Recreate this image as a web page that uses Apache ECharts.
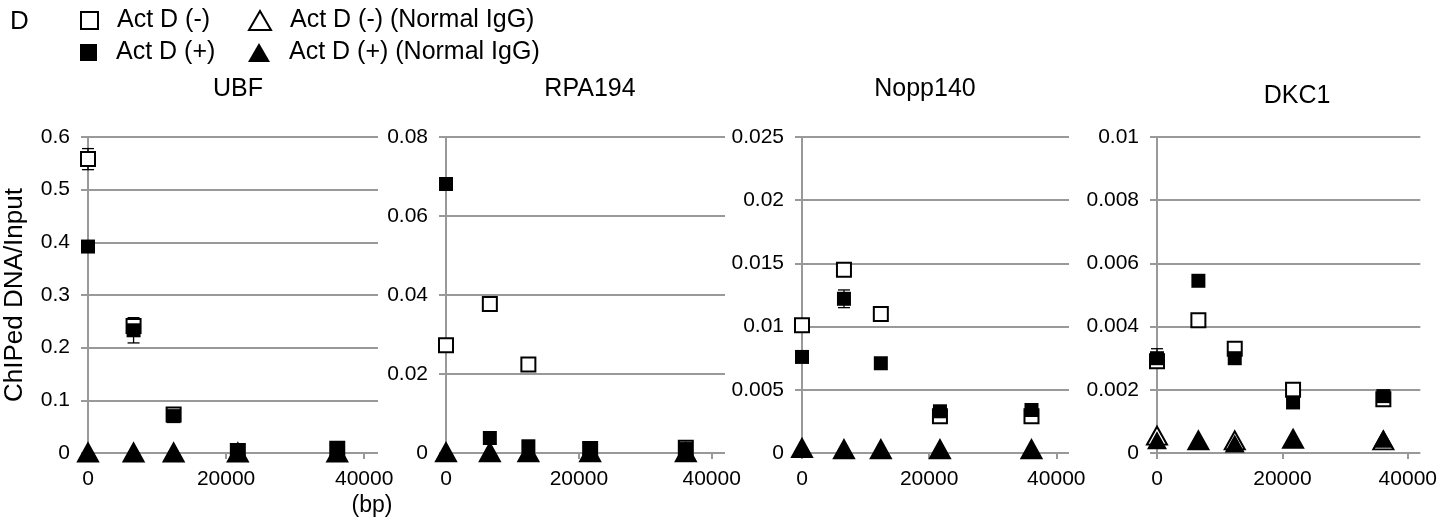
<!DOCTYPE html>
<html>
<head>
<meta charset="utf-8">
<style>
  html, body { margin: 0; padding: 0; background: #fff; }
  #chart { width: 1440px; height: 520px; }
</style>
<script src="https://cdn.jsdelivr.net/npm/echarts@6/dist/echarts.min.js"></script>
</head>
<body>
<div id="chart"></div>
<script>
// distance along the gene (bp)
const xPos = [0, 6600, 12400, 21700, 36100];
const xTicks = [0, 20000, 40000];

const panelNames = ["UBF", "RPA194", "Nopp140", "DKC1"];
const yMax = [0.6, 0.08, 0.025, 0.01];
const yStep = [0.1, 0.02, 0.005, 0.002];

// UBF
const ubfMinus = [0.558, 0.241, 0.073, 0.004, 0.008];
const ubfMinusErr = [0.02, 0.01, 0.004, 0.002, 0.002];
const ubfPlus = [0.392, 0.233, 0.070, 0.005, 0.008];
const ubfPlusErr = [0.005, 0.024, 0.005, 0.002, 0.002];
const ubfMinusIgG = [0.001, 0.001, 0.001, 0.001, 0.001];
const ubfPlusIgG = [0.001, 0.001, 0.001, 0.001, 0.001];

// RPA194
const rpaMinus = [0.0273, 0.0377, 0.0224, 0.0010, 0.0013];
const rpaMinusErr = [0.0009, 0.0008, 0.0008, 0.0003, 0.0003];
const rpaPlus = [0.0681, 0.0038, 0.0017, 0.0008, 0.0010];
const rpaPlusErr = [0.0005, 0.0003, 0.0003, 0.0002, 0.0002];
const rpaMinusIgG = [0.0002, 0.0002, 0.0002, 0.0002, 0.0002];
const rpaPlusIgG = [0.0002, 0.0002, 0.0002, 0.0002, 0.0002];

// Nopp140
const noppMinus = [0.0101, 0.0145, 0.0110, 0.0029, 0.0029];
const noppMinusErr = [0.0003, 0.0002, 0.0003, 0.0002, 0.0002];
const noppPlus = [0.0076, 0.0122, 0.0071, 0.0033, 0.0034];
const noppPlusErr = [0.0002, 0.0007, 0.0002, 0.0002, 0.0002];
const noppMinusIgG = [0.0004, 0.0003, 0.0003, 0.0003, 0.0003];
const noppPlusIgG = [0.0004, 0.0003, 0.0003, 0.0003, 0.0003];

// DKC1
const dkcMinus = [0.0029, 0.0042, 0.0033, 0.0020, 0.0017];
const dkcMinusErr = [0.0001, 0.0001, 0.0001, 0.0001, 0.0001];
const dkcPlus = [0.0030, 0.00545, 0.0030, 0.0016, 0.0018];
const dkcPlusErr = [0.0003, 0.0001, 0.0001, 0.0001, 0.0001];
const dkcMinusIgG = [0.00055, 0.0004, 0.0004, 0.00045, 0.0004];
const dkcPlusIgG = [0.0004, 0.0004, 0.0003, 0.00045, 0.00045];

const panelData = [
    [ubfMinus, ubfMinusErr, ubfPlus, ubfPlusErr, ubfMinusIgG, ubfPlusIgG],
    [rpaMinus, rpaMinusErr, rpaPlus, rpaPlusErr, rpaMinusIgG, rpaPlusIgG],
    [noppMinus, noppMinusErr, noppPlus, noppPlusErr, noppMinusIgG, noppPlusIgG],
    [dkcMinus, dkcMinusErr, dkcPlus, dkcPlusErr, dkcMinusIgG, dkcPlusIgG]
];

const S_MINUS = "Act D (-)";
const S_PLUS = "Act D (+)";
const S_MINUS_IGG = "Act D (-) (Normal IgG)";
const S_PLUS_IGG = "Act D (+) (Normal IgG)";

const FONT = "'Liberation Sans', Arial, sans-serif";
const GRAY = "#999";

// grid boxes in px
const gridLeft = [88, 446, 802, 1157];
const gridWidth = [290, 279, 267, 267];
const gridTop = 137;
const gridHeight = 316;

const chart = echarts.init(document.getElementById("chart"), null, { renderer: "canvas" });

function pairs(vals) {
    return vals.map((v, i) => [xPos[i], v]);
}

function errBars(vals, errs, idx, name) {
    return {
        type: "custom",
        name: name + " err",
        xAxisIndex: idx,
        yAxisIndex: idx,
        clip: false,
        silent: true,
        data: vals.map((v, i) => [xPos[i], v, errs[i]]),
        renderItem(params, api) {
            const x = api.value(0), y = api.value(1), e = api.value(2);
            const hi = api.coord([x, y + e]);
            const lo = api.coord([x, y - e]);
            const st = { stroke: "#000", lineWidth: 1.3 };
            return {
                type: "group",
                children: [
                    { type: "line", shape: { x1: hi[0], y1: hi[1], x2: lo[0], y2: lo[1] }, style: st },
                    { type: "line", shape: { x1: hi[0] - 6, y1: hi[1], x2: hi[0] + 6, y2: hi[1] }, style: st },
                    { type: "line", shape: { x1: lo[0] - 6, y1: lo[1], x2: lo[0] + 6, y2: lo[1] }, style: st }
                ]
            };
        }
    };
}

function scatter(name, vals, idx, symbol, size, fill) {
    return {
        type: "scatter",
        name: name,
        xAxisIndex: idx,
        yAxisIndex: idx,
        clip: false,
        symbol: symbol,
        symbolSize: size,
        itemStyle: { color: fill, opacity: 1, borderColor: "#000", borderWidth: fill === "#000" ? 0 : 2 },
        data: pairs(vals)
    };
}

const grids = [], xAxes = [], yAxes = [], series = [];
panelNames.forEach((p, i) => {
    const d = panelData[i];
    grids.push({ left: gridLeft[i], top: gridTop, width: gridWidth[i], height: gridHeight });
    xAxes.push({
        type: "value",
        gridIndex: i,
        min: 0,
        max: 42000,
        axisLine: { show: false },
        splitLine: { show: false },
        axisTick: { show: true, length: 6, customValues: xTicks, lineStyle: { color: GRAY, width: 2 } },
        axisLabel: {
            customValues: xTicks, margin: 16, fontSize: 21, color: "#000", fontFamily: FONT,
            formatter: v => String(v)
        }
    });
    yAxes.push({
        type: "value",
        gridIndex: i,
        min: 0,
        max: yMax[i],
        interval: yStep[i],
        name: i === 0 ? "ChIPed DNA/Input" : "",
        nameLocation: "middle",
        nameGap: 60,
        nameTextStyle: { fontSize: 26, color: "#000", fontFamily: FONT },
        axisLine: { show: true, lineStyle: { color: GRAY, width: 2 } },
        axisTick: { show: true, length: 7, lineStyle: { color: GRAY, width: 2 } },
        splitLine: { show: true, lineStyle: { color: GRAY, width: 2 } },
        axisLabel: {
            margin: 18, fontSize: 21, color: "#000", fontFamily: FONT,
            formatter: v => String(+v.toFixed(4))
        }
    });
    series.push(
        scatter(S_MINUS, d[0], i, "rect", 14, "#fff"),
        errBars(d[0], d[1], i, S_MINUS),
        scatter(S_MINUS_IGG, d[4], i, "triangle", [20, 18], "#fff"),
        scatter(S_PLUS, d[2], i, "rect", 14, "#000"),
        errBars(d[2], d[3], i, S_PLUS),
        scatter(S_PLUS_IGG, d[5], i, "triangle", [20, 18], "#000")
    );
});

// panel titles
const titleX = [233, 585, 920, 1292];
const titleY = [72, 72, 72, 79];
const titles = [{ text: "D", left: 5, top: 4, textStyle: { fontSize: 26, fontWeight: "normal", color: "#000", fontFamily: FONT } }];
panelNames.forEach((p, i) => {
    titles.push({
        text: p, left: titleX[i], top: titleY[i], textAlign: "center",
        textStyle: { fontSize: 25, fontWeight: "normal", color: "#000", fontFamily: FONT }
    });
});
titles.push({
    text: "(bp)", left: 367, top: 489, textAlign: "center",
    textStyle: { fontSize: 23, fontWeight: "normal", color: "#000", fontFamily: FONT }
});

function legendItem(name, left, top, w, h) {
    return {
        data: [name], left: left, top: top,
        itemWidth: w, itemHeight: h,
        selectedMode: false,
        textStyle: { fontSize: 25, color: "#000", fontFamily: FONT, padding: [0, 0, 0, 14] }
    };
}

chart.setOption({
    animation: false,
    backgroundColor: "#fff",
    title: titles,
    legend: [
        legendItem(S_MINUS, 75, 3, 17, 17),
        legendItem(S_MINUS_IGG, 243, 3, 22, 19),
        legendItem(S_PLUS, 75, 35, 17, 17),
        legendItem(S_PLUS_IGG, 243, 35, 22, 19)
    ],
    grid: grids,
    xAxis: xAxes,
    yAxis: yAxes,
    series: series
});
</script>
</body>
</html>
